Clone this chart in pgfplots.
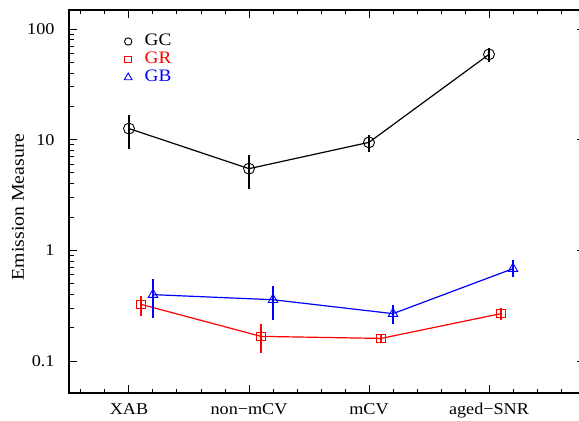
\documentclass[border=0pt]{standalone}
\usepackage{fontspec}
\setmainfont{Liberation Serif}[FakeStretch=1.1]
\usepackage{pgfplots}
\pgfplotsset{compat=1.18}

% columns: x, value, error up, error down
\pgfplotstableread{
x     y      ep     em
0     12.6   4.2    4.3
1     5.47   1.83   1.87
2     9.46   1.64   1.66
3     59     7.9    8.3
}\gcdata
\pgfplotstableread{
x     y      ep     em
0.1   0.325  0.065  0.068
1.1   0.167  0.051  0.049
2.1   0.160  0.017  0.016
3.1   0.268  0.032  0.031
}\grdata
\pgfplotstableread{
x     y      ep     em
0.2   0.398  0.149  0.151
1.2   0.358  0.118  0.121
2.2   0.268  0.051  0.050
3.2   0.683  0.127  0.109
}\gbdata

\newcommand\lfont{\fontsize{17.5}{19}\selectfont}

\begin{document}
\fontsize{16}{19}\selectfont
\begin{tikzpicture}
\begin{axis}[
    scale only axis,
    width=516pt, height=383pt,
    ymode=log,
    xmin=-0.5, xmax=3.8,
    ymin=0.0514, ymax=148.5,
    xtick={0,1,2,3},
    xticklabels={XAB, non−mCV, mCV, aged−SNR},
    minor xtick={-0.4,-0.2,0.2,0.4,0.6,0.8,1.2,1.4,1.6,1.8,2.2,2.4,2.6,2.8,3.2,3.4,3.6,3.8},
    ytick={0.1,1,10,100},
    yticklabels={0.1,1,10,100},
    tick align=inside,
    major tick length=8pt,
    minor tick length=4.5pt,
    every tick/.style={line width=1pt, black},
    axis line style={line width=1.3pt},
    tick label style={font=\fontsize{16.5}{19}\selectfont},
    xticklabel style={yshift=-5pt},
    yticklabel style={xshift=-9pt},
    /pgf/number format/assume math mode=true,
    ylabel={\fontsize{18}{21}\selectfont Emission Measure},
    ylabel style={at={(axis description cs:-0.0988,0.486)}, anchor=center},
    legend style={draw=none, fill=none, at={(axis description cs:0.101,0.947)}, anchor=north west,
        row sep=0pt, nodes={text height=12pt, text depth=3pt, inner sep=1.5pt}},
    legend cell align=left,
    error bars/y dir=both,
    error bars/y explicit,
    error bars/error mark=none,
]
\addlegendimage{only marks, mark=o, mark size=3.7pt, black, line width=0.9pt}
\addlegendentry{\hspace{11pt}\lfont GC}
\addlegendimage{only marks, mark=square, mark size=3.3pt, red, line width=0.9pt}
\addlegendentry{\hspace{11pt}\lfont\textcolor{red}{GR}}
\addlegendimage{only marks, mark=triangle, mark size=4.5pt, blue, line width=0.9pt}
\addlegendentry{\hspace{11pt}\lfont\textcolor{blue}{GB}}

\addplot[forget plot, black, line width=1.2pt, mark=o, mark size=5.5pt,
    mark options={line width=0.9pt},
    error bars/error bar style={line width=1.2pt}]
    table[x=x, y=y, y error plus=ep, y error minus=em] {\gcdata};
\addplot[forget plot, red, line width=1.2pt, mark=square, mark size=4.3pt,
    mark options={line width=0.9pt},
    error bars/error bar style={line width=1.2pt}]
    table[x=x, y=y, y error plus=ep, y error minus=em] {\grdata};
\addplot[forget plot, blue, line width=1.2pt, mark=triangle, mark size=5.5pt,
    mark options={line width=0.9pt},
    error bars/error bar style={line width=1.2pt}]
    table[x=x, y=y, y error plus=ep, y error minus=em] {\gbdata};
\end{axis}
\pgfresetboundingbox
\useasboundingbox ([shift={(-69pt,-27pt)}]current axis.south west)
    rectangle ([shift={(510pt,10pt)}]current axis.north west);
\end{tikzpicture}
\end{document}
